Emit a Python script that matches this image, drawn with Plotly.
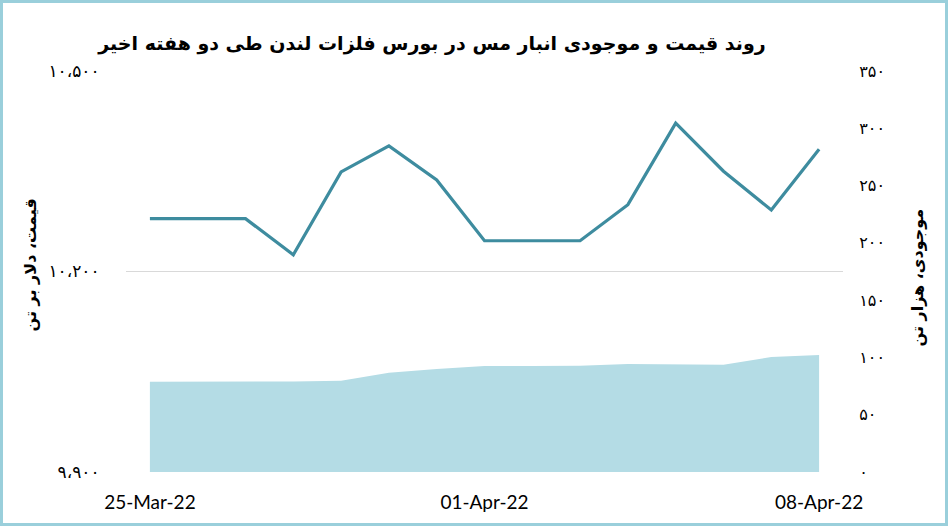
import plotly.graph_objects as go

# daily data, 25 Mar - 08 Apr 2022 (weekends carried forward)
dates = [
    "2022-03-25", "2022-03-26", "2022-03-27", "2022-03-28", "2022-03-29",
    "2022-03-30", "2022-03-31", "2022-04-01", "2022-04-02", "2022-04-03",
    "2022-04-04", "2022-04-05", "2022-04-06", "2022-04-07", "2022-04-08",
]
price = [10279, 10279, 10279, 10225, 10349, 10388, 10337, 10246, 10246, 10246,
         10300, 10422, 10350, 10292, 10383]
stock = [78.8, 78.8, 78.8, 79.0, 79.6, 86.7, 89.9, 92.5, 92.6, 92.8,
         94.3, 94.3, 93.7, 100.4, 102.1]

price_ticks = [9900, 10200, 10500]
price_labels = ["۹،۹۰۰", "۱۰،۲۰۰", "۱۰،۵۰۰"]
stock_ticks = [0, 50, 100, 150, 200, 250, 300, 350]
stock_labels = ["۰", "۵۰", "۱۰۰", "۱۵۰", "۲۰۰", "۲۵۰", "۳۰۰", "۳۵۰"]
date_ticks = ["2022-03-25", "2022-04-01", "2022-04-08"]

title = "روند قیمت و موجودی انبار مس در بورس فلزات لندن طی دو هفته اخیر"
left_title = "قیمت، دلار بر تن"
right_title = "موجودی، هزار تن"

W, H = 948, 526
L, R, T, B = 126, 105, 71, 54
pw, ph = W - L - R, H - T - B

fa_font = "DejaVu Sans"

fig = go.Figure()

fig.add_trace(go.Scatter(
    x=dates, y=stock, yaxis="y2", mode="lines",
    line=dict(width=0, color="#B4DCE5"),
    fill="tozeroy", fillcolor="#B4DCE5",
))
fig.add_trace(go.Scatter(
    x=dates, y=price, mode="lines",
    line=dict(width=3.2, color="#3E8C9F"),
))

# frame around the whole picture
def px_x(p):
    return (p - L) / pw

def px_y(p):
    return (H - B - p) / ph

fig.add_shape(type="rect", xref="paper", yref="paper",
              x0=px_x(1.5), x1=px_x(W - 1.5), y0=px_y(H - 1.5), y1=px_y(1.5),
              line=dict(color="#9ACFDB", width=3), fillcolor="rgba(0,0,0,0)",
              layer="above")

fig.add_annotation(text=left_title, xref="paper", yref="paper",
                   x=px_x(18), y=px_y(265), textangle=-90, showarrow=False,
                   font=dict(family=fa_font, size=16, color="black", weight="bold"))
fig.add_annotation(text=right_title, xref="paper", yref="paper",
                   x=px_x(928), y=px_y(278), textangle=-90, showarrow=False,
                   font=dict(family=fa_font, size=16, color="black", weight="bold"))

fig.update_layout(
    width=W, height=H,
    margin=dict(l=L, r=R, t=T, b=B),
    paper_bgcolor="white", plot_bgcolor="white",
    showlegend=False,
    title=dict(text=title, x=432 / W, xanchor="center", y=1 - 43 / H, yanchor="middle",
               font=dict(family=fa_font, size=19, color="black", weight="bold")),
    xaxis=dict(
        type="date",
        range=["2022-03-24 12:00", "2022-04-08 12:00"],
        tickvals=date_ticks, tickformat="%d-%b-%y",
        showgrid=False, zeroline=False, showline=False,
        ticks="outside", ticklen=13, tickcolor="rgba(0,0,0,0)",
        tickfont=dict(family="Lato", size=19, color="black"),
    ),
    yaxis=dict(
        range=[9900, 10500],
        tickvals=price_ticks, ticktext=price_labels,
        showgrid=True, gridcolor="#D9D9D9", gridwidth=1,
        zeroline=False, showline=False,
        ticks="outside", ticklen=22, tickcolor="rgba(0,0,0,0)",
        tickfont=dict(family=fa_font, size=17, color="black"),
    ),
    yaxis2=dict(
        range=[0, 350], overlaying="y", side="right",
        tickvals=stock_ticks, ticktext=stock_labels,
        showgrid=False, zeroline=False, showline=False,
        ticks="outside", ticklen=12, tickcolor="rgba(0,0,0,0)",
        tickfont=dict(family=fa_font, size=16, color="black"),
    ),
)

fig.write_html("out.html", config={"displayModeBar": False},
               post_script="document.body.style.margin='0';")
